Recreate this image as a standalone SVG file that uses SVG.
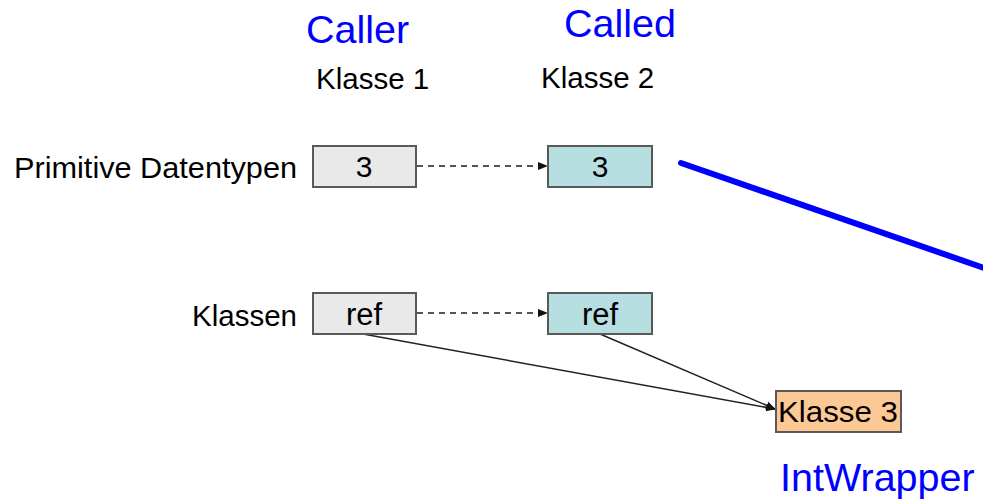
<svg xmlns="http://www.w3.org/2000/svg" width="983" height="503" viewBox="0 0 983 503">
<style>
text{font-family:"Liberation Sans",Arial,sans-serif}
.lbl{font-size:29.5px;fill:#000}
.blue{font-size:39.5px;fill:#0000ff}
.box{stroke:#595959;stroke-width:2}
.grey{fill:#e9e9e9}
.teal{fill:#b7dfe2}
.orange{fill:#fcc894}
.bt{font-size:30px;fill:#000;text-anchor:middle}
.dash{stroke:#555;stroke-width:2;stroke-dasharray:6,5;fill:none}
.solid{stroke:#222;stroke-width:1.5;fill:none}
</style>
<defs>
<marker id="ah" markerWidth="10" markerHeight="10" refX="9" refY="5" orient="auto" markerUnits="userSpaceOnUse">
<path d="M0,1 L10,5 L0,9 Z" fill="#111"/>
</marker>
</defs>
<rect width="983" height="503" fill="#fff"/>
<text class="blue" x="306" y="43">Caller</text>
<text class="blue" x="564" y="37">Called</text>
<text class="lbl" x="316" y="89">Klasse 1</text>
<text class="lbl" x="541" y="88">Klasse 2</text>
<text class="lbl" x="14" y="178" textLength="283" lengthAdjust="spacingAndGlyphs">Primitive Datentypen</text>
<text class="lbl" x="297" y="326" text-anchor="end">Klassen</text>
<text class="blue" x="780" y="491">IntWrapper</text>
<g id="connectors">
<line class="dash" x1="417" y1="166" x2="547" y2="166" marker-end="url(#ah)"/>
<line class="dash" x1="417" y1="313" x2="547" y2="313" marker-end="url(#ah)"/>
<line class="solid" x1="363" y1="334" x2="775" y2="409" marker-end="url(#ah)"/>
<line class="solid" x1="600" y1="334" x2="775" y2="409" marker-end="url(#ah)"/>
<line x1="681" y1="163" x2="990" y2="270" stroke="#0000ff" stroke-width="6" stroke-linecap="round"/>
</g>
<g id="caller-prim"><rect class="box grey" x="313" y="146" width="103" height="41"/><text class="bt" x="364" y="177">3</text></g>
<g id="called-prim"><rect class="box teal" x="548" y="146" width="104" height="41"/><text class="bt" x="600" y="177">3</text></g>
<g id="caller-ref"><rect class="box grey" x="313" y="293" width="103" height="41"/><text class="bt" x="364" y="325" style="font-size:31px">ref</text></g>
<g id="called-ref"><rect class="box teal" x="548" y="293" width="104" height="41"/><text class="bt" x="600" y="325" style="font-size:31px">ref</text></g>
<g id="klasse3"><rect class="box orange" x="776" y="391" width="125" height="41"/><text class="bt" x="838" y="422" textLength="120" lengthAdjust="spacingAndGlyphs">Klasse 3</text></g>
</svg>
